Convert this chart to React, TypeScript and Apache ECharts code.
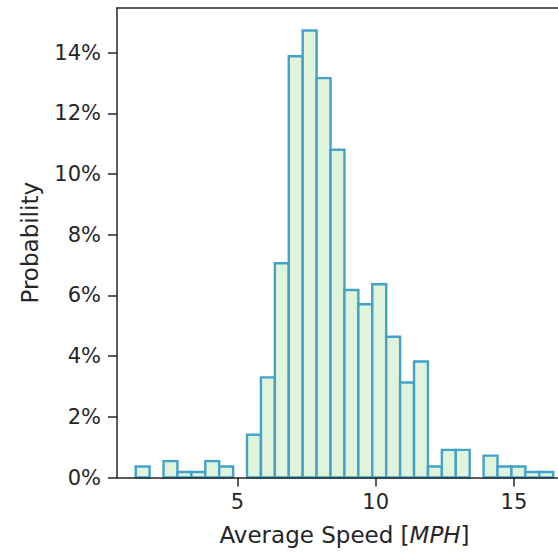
import React, { useEffect, useRef } from "react";
import * as echarts from "echarts";

// Histogram of average speed (MPH), 30 equal bins
const binStart = 1.32;
const binEnd = 16.42;
const probabilities = [
  0.36, 0, 0.54, 0.18, 0.18, 0.54, 0.36, 0, 1.41, 3.3,
  7.06, 13.88, 14.73, 13.16, 10.8, 6.18, 5.71, 6.37, 4.64, 3.13,
  3.82, 0.36, 0.91, 0.91, 0, 0.72, 0.36, 0.36, 0.18, 0.18,
];
const xTicks = [5, 10, 15];
const yTicks = [0, 2, 4, 6, 8, 10, 12, 14];
const xLabel = "Average Speed [";
const xLabelItalic = "MPH";
const yLabel = "Probability";

const TEXT = "#262626";
const FONT = "DejaVu Sans";

export default function App() {
  const ref = useRef<HTMLDivElement>(null);
  useEffect(() => {
    if (!ref.current) return;
    const chart = echarts.init(ref.current, undefined, { renderer: "svg" });
    const n = probabilities.length;
    const w = (binEnd - binStart) / n;
    const data = probabilities.map((p, i) => [binStart + i * w, binStart + (i + 1) * w, p]);
    const xMin = 0.644;
    const xMax = 17.1;
    const spine = { color: TEXT, width: 1.5 };
    chart.setOption({
      animation: false,
      textStyle: { fontFamily: FONT, color: TEXT },
      grid: { left: 117, right: 28, top: 8, bottom: 74.5 },
      xAxis: [
        {
          type: "value",
          min: xMin,
          max: xMax,
          position: "bottom",
          z: 5,
          axisLine: { show: true, onZero: false, lineStyle: spine },
          axisTick: { show: true, length: 9, inside: false, customValues: xTicks, lineStyle: spine },
          axisLabel: { customValues: xTicks, color: TEXT, fontSize: 21, fontFamily: FONT, margin: 14 },
          splitLine: { show: false },
          name: xLabel + "{i|" + xLabelItalic + "}]",
          nameLocation: "middle",
          nameGap: 46,
          nameTextStyle: {
            color: TEXT,
            fontSize: 23,
            fontFamily: FONT,
            rich: { i: { fontStyle: "italic", fontSize: 23, fontFamily: FONT, color: TEXT } },
          },
        },
        {
          type: "value",
          min: xMin,
          max: xMax,
          position: "top",
          z: 5,
          axisLine: { show: true, onZero: false, lineStyle: spine },
          axisTick: { show: false },
          axisLabel: { show: false },
          splitLine: { show: false },
        },
      ],
      yAxis: [
        {
          type: "value",
          min: 0,
          max: 15.47,
          z: 5,
          axisLine: { show: true, onZero: false, lineStyle: spine },
          axisTick: { show: true, length: 9, customValues: yTicks, lineStyle: spine },
          axisLabel: {
            customValues: yTicks,
            formatter: (v: number) => `${v}%`,
            color: TEXT,
            fontSize: 21,
            fontFamily: FONT,
            margin: 16,
          },
          splitLine: { show: false },
          name: yLabel,
          nameLocation: "middle",
          nameGap: 76,
          nameTextStyle: { color: TEXT, fontSize: 23, fontFamily: FONT },
        },
        {
          type: "value",
          min: 0,
          max: 15.47,
          position: "right",
          z: 5,
          axisLine: { show: true, onZero: false, lineStyle: spine },
          axisTick: { show: false },
          axisLabel: { show: false },
          splitLine: { show: false },
        },
      ],
      series: [
        {
          type: "custom",
          xAxisIndex: 0,
          yAxisIndex: 0,
          z: 2,
          encode: { x: [0, 1], y: 2 },
          data,
          renderItem: (params: any, api: any) => {
            const s = api.value(0);
            const e = api.value(1);
            const v = api.value(2);
            if (!v) return null;
            const p0 = api.coord([s, 0]);
            const p1 = api.coord([e, v]);
            return {
              type: "rect",
              shape: { x: p0[0], y: p1[1], width: p1[0] - p0[0], height: p0[1] - p1[1] },
              style: { fill: "#e0f3db", stroke: "#43a2ca", lineWidth: 2.4 },
            };
          },
        },
      ],
    });
    return () => chart.dispose();
  }, []);
  return (
    <div style={{ position: "absolute", left: 0, top: 0, width: 558, height: 552, overflow: "hidden", background: "#fff" }}>
      <div ref={ref} style={{ width: 600, height: 552 }} />
    </div>
  );
}
